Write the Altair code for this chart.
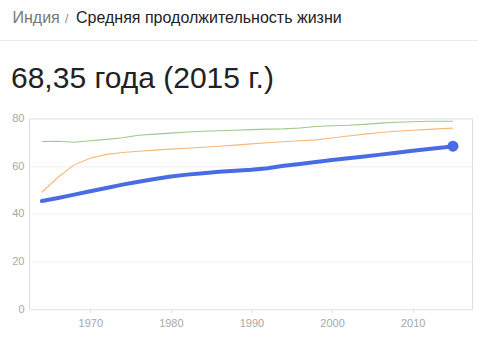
import altair as alt
import pandas as pd

# India (blue)
india_years = [1964, 1966, 1968, 1970, 1972, 1974, 1976, 1978, 1980, 1982, 1984, 1986, 1988,
               1990, 1992, 1994, 1996, 1998, 2000, 2002, 2004, 2006, 2008, 2010, 2012, 2014, 2015]
india_vals = [45.3, 46.6, 48.0, 49.4, 50.8, 52.2, 53.4, 54.6, 55.6, 56.4, 57.0, 57.6, 58.0,
              58.4, 59.1, 60.1, 60.9, 61.7, 62.5, 63.3, 64.0, 64.8, 65.6, 66.4, 67.2, 67.9, 68.35]

# Orange comparison series
orange_years = [1964, 1966, 1968, 1970, 1972, 1974, 1976, 1978, 1980, 1982, 1984, 1986, 1988,
                1990, 1992, 1994, 1996, 1998, 2000, 2002, 2004, 2006, 2008, 2010, 2012, 2015]
orange_vals = [49.0, 55.3, 60.5, 63.3, 64.9, 65.7, 66.2, 66.7, 67.1, 67.5, 67.9, 68.3, 68.8,
               69.3, 69.8, 70.2, 70.6, 71.0, 71.8, 72.6, 73.4, 74.1, 74.6, 75.0, 75.4, 75.9]

# Green comparison series
green_years = [1964, 1966, 1968, 1970, 1972, 1974, 1976, 1978, 1980, 1982, 1984, 1986, 1988,
               1990, 1992, 1994, 1996, 1998, 2000, 2002, 2004, 2006, 2008, 2010, 2012, 2015]
green_vals = [70.3, 70.4, 70.0, 70.6, 71.2, 71.9, 72.9, 73.4, 73.8, 74.3, 74.6, 74.8, 75.0,
              75.3, 75.5, 75.6, 76.0, 76.6, 76.9, 77.1, 77.5, 78.0, 78.4, 78.6, 78.8, 78.8]

x_ticks = [1970, 1980, 1990, 2000, 2010]
y_ticks = [0, 20, 40, 60, 80]

breadcrumb_country = "Индия"
breadcrumb_sep = "/"
breadcrumb_title = "Средняя продолжительность жизни"
headline = "68,35 года (2015 г.)"

df_india = pd.DataFrame({"year": india_years, "value": india_vals})
df_orange = pd.DataFrame({"year": orange_years, "value": orange_vals})
df_green = pd.DataFrame({"year": green_years, "value": green_vals})
df_last = df_india.tail(1)

W, H = 443, 190.6
PAD_L, PAD_T = 29, 118.4
FONT = "Liberation Sans"

x_scale = alt.Scale(domain=[1962.4, 2017.36], nice=False, zero=False)
y_scale = alt.Scale(domain=[0, 80], nice=False)

x_enc = alt.X("year:Q", scale=x_scale,
              axis=alt.Axis(values=x_ticks, format="d", title=None, grid=False, domain=False,
                            ticks=True, tickSize=4, tickColor="#e4e4e4", labelColor="#a8a8a8",
                            labelFontSize=11, labelFont=FONT, labelPadding=4))
y_enc = alt.Y("value:Q", scale=y_scale,
              axis=alt.Axis(values=y_ticks, title=None, grid=True, gridColor="#efefef",
                            domain=False, ticks=False, labelColor="#a8a8a8", labelFontSize=11,
                            labelFont=FONT, labelPadding=5))

green = alt.Chart(df_green).mark_line(color="#9fc78f", strokeWidth=1.1).encode(x=x_enc, y=y_enc)
orange = alt.Chart(df_orange).mark_line(color="#f5b878", strokeWidth=1.1).encode(x="year:Q", y="value:Q")
blue = alt.Chart(df_india).mark_line(color="#4a6ce2", strokeWidth=4, strokeCap="round").encode(
    x="year:Q", y="value:Q")
dot = alt.Chart(df_last).mark_circle(color="#4a6ce2", size=120, opacity=1).encode(
    x="year:Q", y="value:Q")

txt_df = pd.DataFrame({"a": [0]})
crumb1 = alt.Chart(txt_df).mark_text(align="left", baseline="middle", fontSize=16, font=FONT,
                                      color="#777777", text=breadcrumb_country).encode(
    x=alt.value(12.5 - PAD_L), y=alt.value(18 - PAD_T))
crumb2 = alt.Chart(txt_df).mark_text(align="left", baseline="middle", fontSize=12, font=FONT,
                                      color="#888888", text=breadcrumb_sep).encode(
    x=alt.value(65 - PAD_L), y=alt.value(18.5 - PAD_T))
crumb3 = alt.Chart(txt_df).mark_text(align="left", baseline="middle", fontSize=16, font=FONT,
                                      color="#222222", text=breadcrumb_title).encode(
    x=alt.value(76 - PAD_L), y=alt.value(18 - PAD_T))
sep_line = alt.Chart(txt_df).mark_rule(color="#ebebeb", strokeWidth=1).encode(
    x=alt.value(-PAD_L), x2=alt.value(478 - PAD_L), y=alt.value(40.5 - PAD_T))
head = alt.Chart(txt_df).mark_text(align="left", baseline="middle", fontSize=30, font=FONT,
                                   color="#222222", text=headline).encode(
    x=alt.value(11 - PAD_L), y=alt.value(79 - PAD_T))

chart = alt.layer(green, orange, blue, dot, crumb1, crumb2, crumb3, sep_line, head).properties(
    width=W, height=H,
    autosize=alt.AutoSizeParams(type="none"),
    padding={"left": PAD_L, "top": PAD_T, "right": 478 - PAD_L - W, "bottom": 341 - PAD_T - H},
).configure_view(stroke=None).configure(background="white")

chart.save("out.html", embed_options={"renderer": "svg", "actions": False})
